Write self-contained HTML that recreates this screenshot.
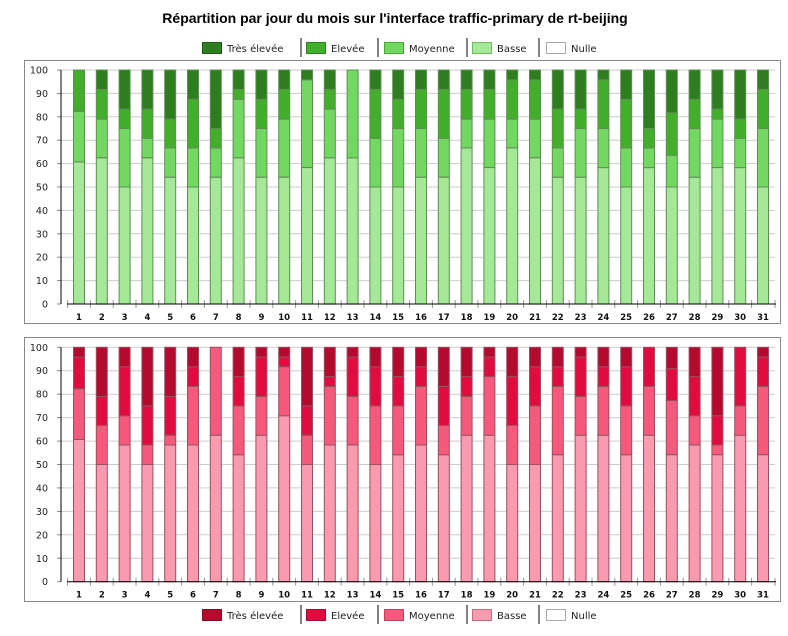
<!DOCTYPE html>
<html><head><meta charset="utf-8"><style>
body{margin:0;background:#fff;width:788px;height:636px;overflow:hidden}
svg{display:block}
text{font-family:"DejaVu Sans","Liberation Sans",sans-serif}
</style></head><body>
<svg id="s" width="788" height="636" xmlns="http://www.w3.org/2000/svg">
<g id="g"></g>
<text x="395" y="23" text-anchor="middle" font-weight="bold" font-size="14" style="font-family:'Liberation Sans',sans-serif">Répartition par jour du mois sur l'interface traffic-primary de rt-beijing</text>
<g font-size="10" fill="#222">
<rect x="202.5" y="42.5" width="19" height="11" fill="#2e7d1f" stroke="#1f5a14"/><text x="227" y="52">Très élevée</text>
<line x1="301" y1="38" x2="301" y2="57" stroke="#000"/>
<rect x="306.5" y="42.5" width="19" height="11" fill="#42ae2c" stroke="#2e7d1f"/><text x="331" y="52">Elevée</text>
<line x1="378" y1="38" x2="378" y2="57" stroke="#000"/>
<rect x="384.5" y="42.5" width="19" height="11" fill="#72d862" stroke="#42ae2c"/><text x="409" y="52">Moyenne</text>
<line x1="467" y1="38" x2="467" y2="57" stroke="#000"/>
<rect x="472.5" y="42.5" width="19" height="11" fill="#a5e898" stroke="#72b862"/><text x="497" y="52">Basse</text>
<line x1="539" y1="38" x2="539" y2="57" stroke="#000"/>
<rect x="546.5" y="42.5" width="19" height="11" fill="#fff" stroke="#aaa"/><text x="571" y="52">Nulle</text>

<rect x="202.5" y="609.5" width="19" height="11" fill="#b30a2e" stroke="#800a20"/><text x="227" y="619">Très élevée</text>
<line x1="301" y1="605" x2="301" y2="624" stroke="#000"/>
<rect x="306.5" y="609.5" width="19" height="11" fill="#e00b3f" stroke="#a00a2e"/><text x="331" y="619">Elevée</text>
<line x1="378" y1="605" x2="378" y2="624" stroke="#000"/>
<rect x="384.5" y="609.5" width="19" height="11" fill="#f55a7c" stroke="#c0405c"/><text x="409" y="619">Moyenne</text>
<line x1="467" y1="605" x2="467" y2="624" stroke="#000"/>
<rect x="472.5" y="609.5" width="19" height="11" fill="#f99aae" stroke="#c07080"/><text x="497" y="619">Basse</text>
<line x1="539" y1="605" x2="539" y2="624" stroke="#000"/>
<rect x="546.5" y="609.5" width="19" height="11" fill="#fff" stroke="#aaa"/><text x="571" y="619">Nulle</text>
</g>
</svg>
<script>
var top1=[[60.7,82.3,100],[62.5,79,91.7],[50,75,83.3],[62.5,70.8,83.3],[54.2,66.7,79],[50,66.7,87.5],[54.2,66.7,75],[62.5,87.5,91.7],[54.2,75,87.5],[54.2,79,91.7],[58.3,95.8,95.8],[62.5,83.3,91.7],[62.5,100,100],[50,70.8,91.7],[50,75,87.5],[54.2,75,91.7],[54.2,70.8,91.7],[66.7,79,91.7],[58.3,79,91.7],[66.7,79,95.8],[62.5,79,95.8],[54.2,66.7,83.3],[54.2,75,83.3],[58.3,75,95.8],[50,66.7,87.5],[58.3,66.7,75],[50,63.6,81.8],[54.2,75,87.5],[58.3,79,83.3],[58.3,70.8,79],[50,75,91.7]];
var bot=[[60.7,82.3,95.8],[50,66.7,79],[58.3,70.8,91.7],[50,58.3,75],[58.3,62.5,79],[58.3,83.3,91.7],[62.5,100,100],[54.2,75,87.5],[62.5,79,95.8],[70.8,91.7,95.8],[50,62.5,75],[58.3,83.3,87.5],[58.3,79,95.8],[50,75,91.7],[54.2,75,87.5],[58.3,83.3,91.7],[54.2,66.7,83.3],[62.5,79,87.5],[62.5,87.5,95.8],[50,66.7,87.5],[50,75,91.7],[54.2,83.3,91.7],[62.5,79,95.8],[62.5,83.3,91.7],[54.2,75,91.7],[62.5,83.3,100],[54.2,77.3,90.9],[58.3,70.8,87.5],[54.2,58.3,70.8],[62.5,75,100],[54.2,83.3,95.8]];
var h='';
function panel(bx,by0,by1,y100,y0,data,cols,stroke){
 h+='<rect x="24.5" y="'+by0+'.5" width="756" height="'+(by1-by0)+'" fill="#fff" stroke="#888"/>';
 var sc=(y0-y100)/100;
 for(var v=0;v<=100;v+=10){var y=(y0-v*sc).toFixed(1);
  if(v>0)h+='<line x1="61" x2="775" y1="'+y+'" y2="'+y+'" stroke="#ccc" stroke-width="1"/>';
  h+='<line x1="57" x2="61" y1="'+y+'" y2="'+y+'" stroke="#888"/>';
  h+='<text x="48" y="'+(+y+3.5)+'" font-size="9.5" text-anchor="end" fill="#222">'+v+'</text>';}
 for(var i=0;i<31;i++){var cx=79+i*22.8,x=cx-5.5,w=11;
  var vals=[0].concat(data[i]).concat([100]);
  for(var k=0;k<4;k++){var a=vals[k],b=vals[k+1];if(b-a<=0)continue;
   var yt=y0-b*sc,yb=y0-a*sc;
   h+='<rect x="'+x+'" y="'+yt.toFixed(1)+'" width="'+w+'" height="'+(yb-yt).toFixed(1)+'" fill="'+cols[k]+'" stroke="'+stroke+'" stroke-width="1"/>';}
  h+='<text x="'+cx+'" y="'+(y0+16)+'" font-size="8.5" font-weight="bold" text-anchor="middle" fill="#111">'+(i+1)+'</text>';
  var tx=(cx-11.4).toFixed(1);h+='<line x1="'+tx+'" x2="'+tx+'" y1="'+(y0-4)+'" y2="'+(y0+4)+'" stroke="#999"/>';}
 h+='<line x1="775" x2="775" y1="'+(y0-4)+'" y2="'+(y0+4)+'" stroke="#999"/>';
 h+='<line x1="61" x2="61" y1="'+y100+'" y2="'+y0+'" stroke="#000"/>';
 h+='<line x1="67" x2="776" y1="'+y0+'" y2="'+y0+'" stroke="#000"/>';
}
panel(0,60,323,70,304,top1,['#a5e898','#72d862','#42ae2c','#2e7d1f'],'#5e8f52');
panel(0,337,601,347.3,581.7,bot,['#f99aae','#f55a7c','#e00b3f','#b30a2e'],'#9a5060');
document.getElementById('g').innerHTML=h;
</script>
</body></html>
